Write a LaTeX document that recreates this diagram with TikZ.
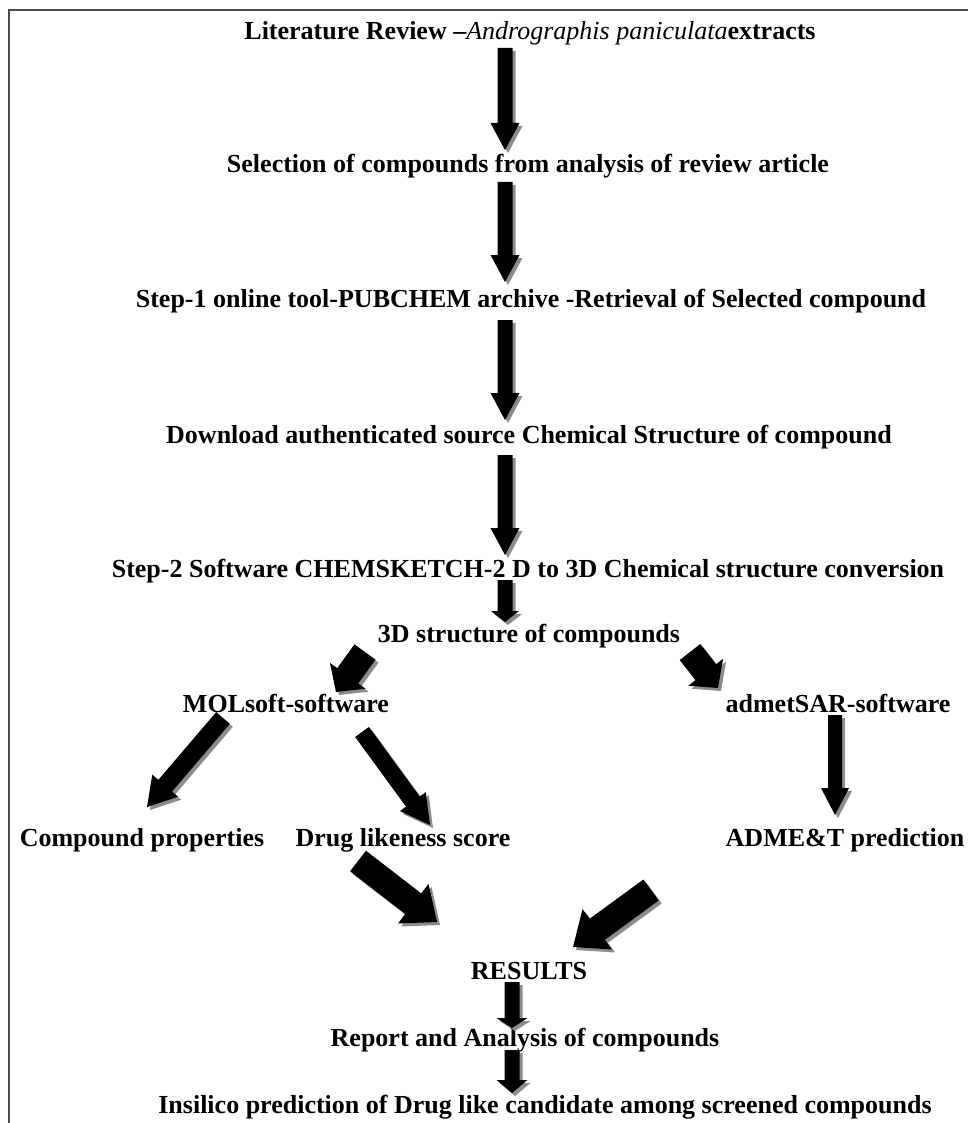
\documentclass[tikz,border=0pt]{standalone}
\usepackage{fontspec}
\setmainfont{Liberation Serif}
\usetikzlibrary{calc}
\newcommand\barrowpath[5]{% S, T, w, h, L
  ($(#1)!#3!90:(#2)$) -- ($($(#2)!#5!(#1)$)!#3!-90:(#1)$) -- ($($(#2)!#5!(#1)$)!#4!-90:(#1)$) -- (#2) -- ($($(#2)!#5!(#1)$)!#4!90:(#1)$) -- ($($(#2)!#5!(#1)$)!#3!90:(#1)$) -- ($(#1)!#3!-90:(#2)$) -- cycle}
\newcommand\barrow[5]{%
  \fill[arrowshadow, transform canvas={xshift=3pt,yshift=-3pt}] \barrowpath{#1}{#2}{#3}{#4}{#5};
  \fill[arrowbody] \barrowpath{#1}{#2}{#3}{#4}{#5};}
\begin{document}
\begin{tikzpicture}[x=1pt,y=-1pt,
  lbl/.style={inner sep=0pt, font=\fontsize{26}{30}\selectfont\bfseries, text height=0.7em, text depth=0.2em},
  arrowshadow/.style={fill=black!45},
  arrowbody/.style={fill=black},
  frame/.style={draw=black!70, line width=1.5pt}]
\useasboundingbox (0,0) rectangle (968,1123);
\draw[frame] (9,1123) -- (9,10) -- (968,10);

\node[lbl] (t1) at (530,37) {Literature Review --\textit{\mdseries Andrographis paniculata}extracts};
\node[lbl] (t2) at (528,170) {Selection of compounds from analysis of review article};
\node[lbl] (t3) at (531,305) {Step-1 online tool-PUBCHEM archive -Retrieval of Selected compound};
\node[lbl] (t4) at (529,441) {Download authenticated source Chemical Structure of compound};
\node[lbl] (t5) at (528,575) {Step-2 Software CHEMSKETCH-2 D to 3D Chemical structure conversion};
\node[lbl] (t6) at (529,640) {3D structure of compounds};
\node[lbl] (t7) at (286,710) {MOLsoft-software};
\node[lbl] (t8) at (838,710) {admetSAR-software};
\node[lbl] (t9) at (142,844) {Compound properties};
\node[lbl] (t10) at (403,844) {Drug likeness score};
\node[lbl] (t11) at (845,844) {ADME\&T prediction};
\node[lbl] (t12) at (529,977) {RESULTS};
\node[lbl] (t13) at (525,1044) {Report and Analysis of compounds};
\node[lbl] (t14) at (545,1111) {Insilico prediction of Drug like candidate among screened compounds};

% arrow end points
\coordinate (a1s) at (505,48);  \coordinate (a1t) at (505,150);
\coordinate (a2s) at (505,182); \coordinate (a2t) at (505,282);
\coordinate (a3s) at (505,320); \coordinate (a3t) at (505,420);
\coordinate (a4s) at (505,455); \coordinate (a4t) at (505,555);
\coordinate (a5s) at (505,580); \coordinate (a5t) at (505,622);
\coordinate (l1s) at (365,652); \coordinate (l1t) at (336,692);
\coordinate (r1s) at (690,652); \coordinate (r1t) at (718,688);
\coordinate (b1s) at (223,718); \coordinate (b1t) at (147,807);
\coordinate (b2s) at (362,732); \coordinate (b2t) at (430,825);
\coordinate (ads) at (835,715); \coordinate (adt) at (835,815);
\coordinate (b3s) at (358,861); \coordinate (b3t) at (437,922);
\coordinate (b4s) at (651,890); \coordinate (b4t) at (573,947);
\coordinate (r2s) at (512,982); \coordinate (r2t) at (512,1028);
\coordinate (r3s) at (512,1050); \coordinate (r3t) at (512,1093);

\barrow{a1s}{a1t}{7.5pt}{14.5pt}{27pt}
\barrow{a2s}{a2t}{7.5pt}{14.5pt}{27pt}
\barrow{a3s}{a3t}{7.5pt}{14.5pt}{27pt}
\barrow{a4s}{a4t}{7.5pt}{14.5pt}{27pt}
\barrow{a5s}{a5t}{7.5pt}{14pt}{11pt}
\barrow{l1s}{l1t}{13pt}{22pt}{20pt}
\barrow{r1s}{r1t}{13pt}{22pt}{20pt}
\barrow{b1s}{b1t}{9pt}{17pt}{28pt}
\barrow{b2s}{b2t}{8.5pt}{16pt}{29pt}
\barrow{ads}{adt}{7pt}{14pt}{27pt}
\barrow{b3s}{b3t}{13pt}{25pt}{30pt}
\barrow{b4s}{b4t}{13pt}{25pt}{30pt}
\barrow{r2s}{r2t}{7.5pt}{15.5pt}{10pt}
\barrow{r3s}{r3t}{7.5pt}{15.5pt}{13pt}
\end{tikzpicture}
\end{document}
